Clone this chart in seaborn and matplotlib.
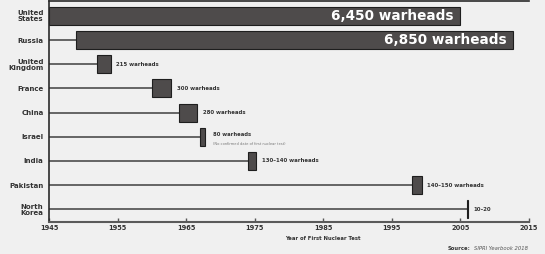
import numpy as np
import pandas as pd
import seaborn as sns
import matplotlib.pyplot as plt
from matplotlib.transforms import blended_transform_factory

# data
countries = ['United\nStates', 'Russia', 'United\nKingdom', 'France', 'China',
             'Israel', 'India', 'Pakistan', 'North\nKorea']
first_test = [1945, 1949, 1952, 1960, 1964, 1967, 1974, 1998, 2006]
warheads = [6450, 6850, 215, 300, 280, 80, 135, 145, 15]
labels = ['6,450 warheads', '6,850 warheads', '215 warheads', '300 warheads',
          '280 warheads', '80 warheads', '130–140 warheads', '140–150 warheads', '10–20']
xticks = [1945, 1955, 1965, 1975, 1985, 1995, 2005, 2015]

df = pd.DataFrame({'country': countries, 'year': first_test, 'warheads': warheads,
                   'label': labels})
df['row'] = np.arange(len(df))
df['width'] = df['warheads'] * 0.0093  # bar length in years per warhead

sns.set_theme(style='ticks')
plt.rcParams['font.family'] = ['DejaVu Sans']

bg = '#f0f0f0'
fig = plt.figure(figsize=(5.45, 2.54), dpi=100, facecolor=bg)
ax = fig.add_axes([49 / 545, 1 - 222 / 254, 480 / 545, 221 / 254])
ax.set_facecolor(bg)

# stems from 1945 to year of first test
ax.hlines(df['row'], 1945, df['year'], color='#5a5a5a', lw=1.3, zorder=1)
# bars sized by warheads
ax.barh(df['row'], df['width'], left=df['year'], height=0.75,
        color='#4e4b4b', edgecolor='#1e1e1e', linewidth=0.8, zorder=2)

for _, r in df.iterrows():
    end = r['year'] + r['width']
    if r['warheads'] > 1000:
        ax.annotate(r['label'], (end, r['row']), xytext=(-5, 0), textcoords='offset points',
                    ha='right', va='center', color='white', fontsize=9.8, fontweight='bold')
    elif r['country'] == 'Israel':
        ax.annotate(r['label'], (end, r['row']), xytext=(6, 1.5), textcoords='offset points',
                    ha='left', va='center', color='#333333', fontsize=3.8, fontweight='bold')
        ax.annotate('(No confirmed date of first nuclear test)', (end, r['row']),
                    xytext=(6, -5), textcoords='offset points', ha='left', va='center',
                    color='#777777', fontsize=2.6)
    else:
        ax.annotate(r['label'], (end, r['row']), xytext=(4, 0), textcoords='offset points',
                    ha='left', va='center', color='#333333', fontsize=3.9, fontweight='bold')

ax.set_xlim(1945, 2015)
ax.set_ylim(len(df) - 1 + 0.53, -0.62)
ax.set_xticks(xticks)
ax.set_xticklabels([str(t) for t in xticks], fontsize=4.8, fontweight='bold', color='#333333')
ax.set_yticks(df['row'])
ax.set_yticklabels(df['country'], fontsize=5, fontweight='bold', color='#333333',
                   linespacing=1.0)
ax.tick_params(axis='y', length=0, pad=4)
ax.tick_params(axis='x', direction='in', length=3, width=1, color='#555555', pad=2.5)

for side in ['top', 'left']:
    ax.spines[side].set_color('#2a2a2a')
    ax.spines[side].set_linewidth(1.2)
ax.spines['bottom'].set_color('#5a5a5a')
ax.spines['bottom'].set_linewidth(1.5)
ax.spines['right'].set_visible(False)

trans = blended_transform_factory(ax.transData, fig.transFigure)
ax.text(1985, 1 - 238 / 254, 'Year of First Nuclear Test', transform=trans,
        ha='center', va='center', fontsize=3.8, fontweight='bold', color='#333333')

# source line: bold prefix followed by italic title
src = fig.text(448 / 545, 1 - 248 / 254, 'Source:', ha='left', va='center',
               fontsize=3.8, fontweight='bold', color='#333333')
ax.annotate('SIPRI Yearbook 2018', xy=(1, 0.5), xycoords=src, xytext=(2, 0),
            textcoords='offset points', ha='left', va='center',
            fontsize=3.8, style='italic', color='#555555', annotation_clip=False)

fig.savefig('out.png', dpi=100, facecolor=bg)
